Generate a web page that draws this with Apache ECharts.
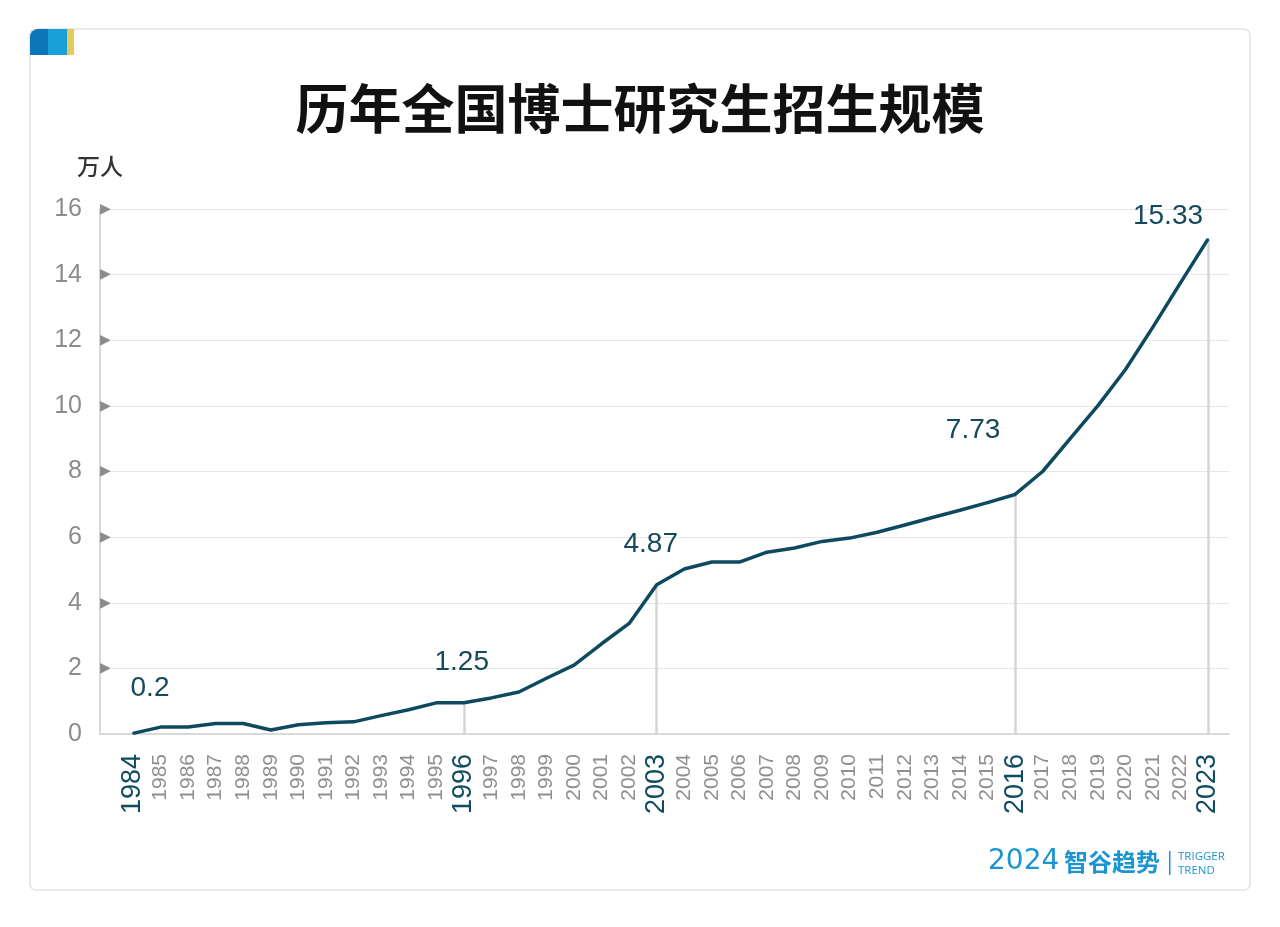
<!DOCTYPE html>
<html><head><meta charset="utf-8">
<script src="https://cdn.jsdelivr.net/npm/echarts@6/dist/echarts.min.js"></script>
<style>html,body{margin:0;padding:0;background:#fff;}#c{width:1280px;height:927px;}</style>
</head><body><div id="c"></div>
<script>
const years = ['1984','1985','1986','1987','1988','1989','1990','1991','1992','1993',
  '1994','1995','1996','1997','1998','1999','2000','2001','2002','2003',
  '2004','2005','2006','2007','2008','2009','2010','2011','2012','2013',
  '2014','2015','2016','2017','2018','2019','2020','2021','2022','2023'];
const values = [0.02,0.21,0.21,0.32,0.32,0.12,0.28,0.34,0.37,0.56,
  0.74,0.95,0.95,1.1,1.28,1.7,2.1,2.75,3.37,4.55,
  5.03,5.24,5.24,5.54,5.67,5.87,5.97,6.15,6.37,6.6,
  6.82,7.05,7.3,8.0,9.0,10.0,11.1,12.4,13.75,15.08];
const keyYears = ['1984','1996','2003','2016','2023'];
const keyLabels = ['0.2','1.25','4.87','7.73','15.33'];
const guideYears = ['1996','2003','2016','2023'];
const yTicks = [0,2,4,6,8,10,12,14,16];

const labelOffsets = [[17,-45],[-2,-41],[-6,-40],[-42,-64],[-40,-23]];
const LINE = '#0e4a5f';
const BLUE = '#1a95d2';

const seriesData = values.map((v,i)=>{
  const k = keyYears.indexOf(years[i]);
  if (k < 0) return v;
  return {value: v, label: {show: true, formatter: keyLabels[k], offset: labelOffsets[k]}};
});
const guideLines = guideYears.map(y => [{coord:[y, 0]}, {coord:[y, values[years.indexOf(y)]]}]);

const chart = echarts.init(document.getElementById('c'));
chart.setOption({
  backgroundColor: '#fff',
  animation: false,
  title: {text: '历年全国博士研究生招生规模', left: 'center', top: 77,
    textStyle: {fontSize: 53, fontWeight: 'bold', color: '#111', fontFamily: 'Noto Sans CJK SC'}},
  grid: [
    {left: 100, right: 51, top: 209, bottom: 193},
    {left: 133, right: 72, top: 209, bottom: 193}
  ],
  xAxis: [
    {gridIndex: 0, type: 'value', min: 0, max: 1,
      axisLine: {show: true, lineStyle: {color: '#d9d9d9', width: 2}},
      axisTick: {show: false}, axisLabel: {show: false}, splitLine: {show: false}},
    {gridIndex: 1, type: 'category', data: years, boundaryGap: false,
      axisLine: {show: false}, axisTick: {show: false},
      axisLabel: {interval: 0, rotate: 90, margin: 20,
        formatter: v => keyYears.indexOf(v) >= 0 ? '{h|' + v + '}' : '{n|' + v + '}',
        rich: {
          n: {fontSize: 21, color: '#909090', fontFamily: 'Liberation Sans'},
          h: {fontSize: 27, color: '#0f4c60', fontFamily: 'Liberation Sans'}
        }}}
  ],
  yAxis: [
    {gridIndex: 0, type: 'value', min: yTicks[0], max: yTicks[yTicks.length-1], interval: 2,
      axisLine: {show: true, lineStyle: {color: '#d9d9d9', width: 2}},
      axisTick: {show: false},
      axisLabel: {color: '#8c8c8c', fontSize: 25, margin: 18, fontFamily: 'Liberation Sans'},
      splitLine: {lineStyle: {color: '#e6e6e6', width: 1}}},
    {gridIndex: 0, type: 'value', min: yTicks[0], max: yTicks[yTicks.length-1], interval: 2, position: 'left',
      axisLine: {show: false}, axisTick: {show: false}, splitLine: {show: false},
      axisLabel: {formatter: v => v > 0 ? '▶' : '', color: '#8c8c8c', fontSize: 14, margin: -11}},
    {gridIndex: 1, type: 'value', min: yTicks[0], max: yTicks[yTicks.length-1], show: false}
  ],
  series: [{
    type: 'line', xAxisIndex: 1, yAxisIndex: 2, data: seriesData,
    symbol: 'circle', symbolSize: 2, itemStyle: {color: LINE},
    lineStyle: {color: LINE, width: 3.5, join: 'round'},
    label: {show: false, position: 'inside', color: '#16495c', fontSize: 28, fontFamily: 'Liberation Sans'},
    markLine: {silent: true, symbol: 'none', label: {show: false},
      lineStyle: {color: '#d6d6d6', width: 2.5, type: 'solid'}, data: guideLines},
    z: 5
  }],
  graphic: [
    {type: 'rect', z: -10, shape: {x: 30, y: 29, width: 1220, height: 861, r: 6},
      style: {fill: '#fff', stroke: '#e3e3e3', lineWidth: 1.5}},
    {type: 'rect', shape: {x: 30, y: 29, width: 18, height: 26, r: [8,0,0,0]}, style: {fill: '#0a78b8'}},
    {type: 'rect', shape: {x: 48, y: 29, width: 19, height: 26}, style: {fill: '#1a9fd9'}},
    {type: 'rect', shape: {x: 67, y: 29, width: 7, height: 26}, style: {fill: '#e8c95c'}},
    {type: 'text', x: 100, y: 166, style: {text: '万人', font: '500 23px "Noto Sans CJK SC"', fill: '#333', align: 'center', verticalAlign: 'middle'}},
    {type: 'text', x: 988, y: 862, style: {text: '2024', font: '28px "DejaVu Sans"', fill: BLUE, verticalAlign: 'middle'}},
    {type: 'text', x: 1064, y: 862, style: {text: '智谷趋势', font: 'bold 24px "Noto Sans CJK SC"', fill: BLUE, verticalAlign: 'middle'}},
    {type: 'rect', shape: {x: 1169, y: 851, width: 1.5, height: 24}, style: {fill: BLUE}},
    {type: 'text', x: 1178, y: 857, style: {text: 'TRIGGER', font: '11.5px "Open Sans"', fill: BLUE, verticalAlign: 'middle'}},
    {type: 'text', x: 1178, y: 871, style: {text: 'TREND', font: '11.5px "Open Sans"', fill: BLUE, verticalAlign: 'middle'}}
  ]
});
</script></body></html>
